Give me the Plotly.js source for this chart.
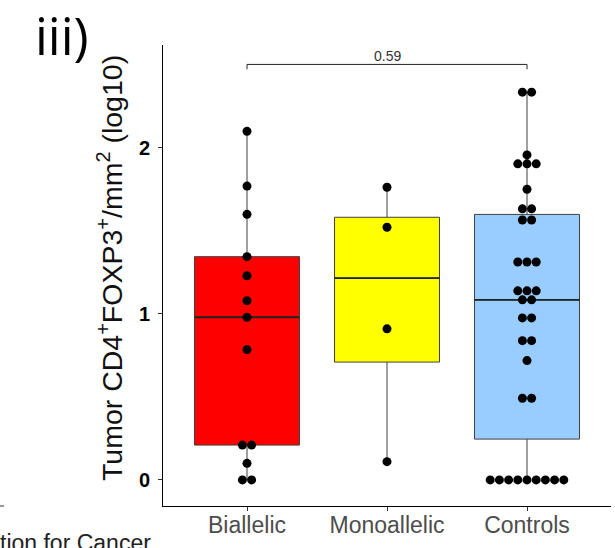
<!DOCTYPE html>
<html>
<head>
<meta charset="utf-8">
<script src="https://cdn.plot.ly/plotly-3.0.1.min.js"></script>
<style>
  html, body { margin: 0; padding: 0; background: #ffffff; }
  #chart { width: 615px; height: 548px; }
</style>
</head>
<body>
<div id="chart"></div>
<script>
// Tumour CD4+FOXP3+ density (log10) per group
const groups = ['Biallelic', 'Monoallelic', 'Controls'];
const biallelic = [2.10, 1.77, 1.60, 1.345, 1.23, 1.08, 0.98, 0.785, 0.21, 0.21, 0.10, 0, 0];
const monoallelic = [1.763, 1.522, 0.91, 0.11];
const controls = [2.336, 2.336, 1.958, 1.904, 1.904, 1.904, 1.751, 1.633, 1.633,
                  1.566, 1.566, 1.313, 1.313, 1.313, 1.139, 1.139, 1.139, 1.085, 1.085,
                  0.976, 0.976, 0.839, 0.839, 0.719, 0.492, 0.492,
                  0, 0, 0, 0, 0, 0, 0, 0, 0];
const fills = ['#FF0000', '#FFFF00', '#99CCFF'];
const yTicks = [0, 1, 2];
const pLabel = '0.59';

const series = [biallelic, monoallelic, controls];

// R-style (type 7) quantile, as used by ggplot's boxplot
function quantile(sorted, p) {
  const h = (sorted.length - 1) * p;
  const lo = Math.floor(h);
  const hi = Math.min(lo + 1, sorted.length - 1);
  return sorted[lo] + (h - lo) * (sorted[hi] - sorted[lo]);
}

const BOX_W = 0.75;
const DOT_STEP = 0.0657;   // horizontal spacing of stacked dots (x units)
const traces = [];
const dotX = [], dotY = [];

series.forEach((vals, i) => {
  const s = vals.slice().sort((a, b) => a - b);
  const q1 = quantile(s, 0.25), med = quantile(s, 0.5), q3 = quantile(s, 0.75);
  const iqr = q3 - q1;
  const lowF = Math.min(...s.filter(v => v >= q1 - 1.5 * iqr));
  const upF = Math.max(...s.filter(v => v <= q3 + 1.5 * iqr));

  traces.push({
    type: 'box', x: [i], q1: [q1], median: [med], q3: [q3],
    lowerfence: [lowF], upperfence: [upF],
    width: BOX_W, whiskerwidth: 0, boxpoints: false,
    fillcolor: fills[i], line: { color: '#404040', width: 1 },
    hoverinfo: 'skip', showlegend: false
  });
  // heavier median bar
  traces.push({
    type: 'scatter', mode: 'lines',
    x: [i - BOX_W / 2, i + BOX_W / 2], y: [med, med],
    line: { color: '#222222', width: 1.8 },
    hoverinfo: 'skip', showlegend: false
  });

  // centred dot stacks: equal values sit side by side
  const counts = new Map();
  vals.forEach(v => counts.set(v, (counts.get(v) || 0) + 1));
  counts.forEach((n, v) => {
    for (let k = 0; k < n; k++) {
      dotX.push(i + (k - (n - 1) / 2) * DOT_STEP);
      dotY.push(v);
    }
  });
});

traces.push({
  type: 'scatter', mode: 'markers', x: dotX, y: dotY,
  marker: { color: '#000000', size: 9, line: { width: 0 } },
  hoverinfo: 'skip', showlegend: false, cliponaxis: false
});

// comparison bracket between first and last group
const bracketY = 2.503, bracketDrop = 0.029;
const shapes = [
  { type: 'line', xref: 'x', yref: 'y', x0: 0, x1: 2, y0: bracketY, y1: bracketY, line: { color: '#222', width: 1 } },
  { type: 'line', xref: 'x', yref: 'y', x0: 0, x1: 0, y0: bracketY, y1: bracketY - bracketDrop, line: { color: '#222', width: 1 } },
  { type: 'line', xref: 'x', yref: 'y', x0: 2, x1: 2, y0: bracketY, y1: bracketY - bracketDrop, line: { color: '#222', width: 1 } },
  { type: 'line', xref: 'paper', yref: 'paper', x0: -163 / 448, x1: -159 / 448, y0: 0, y1: 0, line: { color: '#333', width: 1 } }
];

const FONT = 'Liberation Sans, Arial, sans-serif';
const px = x => (x - 163) / 448;   // page pixel -> paper x
const py = y => (506 - y) / 461;   // page pixel -> paper y

const annotations = [
  { xref: 'x', yref: 'y', x: 1, y: bracketY, text: pLabel, showarrow: false,
    xanchor: 'center', yanchor: 'bottom', yshift: -2,
    font: { family: FONT, size: 14, color: '#333' } },
  { xref: 'paper', yref: 'paper', x: px(110), y: py(268), textangle: -90,
    text: 'Tumor CD4<sup>+</sup>FOXP3<sup>+</sup>/mm<sup>2</sup> (log10)',
    showarrow: false, xanchor: 'center', yanchor: 'middle',
    font: { family: FONT, size: 28.5, color: '#111' } },
  { xref: 'paper', yref: 'paper', x: px(33), y: py(35), text: 'iii)',
    showarrow: false, xanchor: 'left', yanchor: 'middle',
    font: { family: 'Open Sans, sans-serif', size: 51, color: '#000' } },
  { xref: 'paper', yref: 'paper', x: px(-2), y: py(528), text: 'tion for Cancer',
    showarrow: false, xanchor: 'left', yanchor: 'top',
    font: { family: FONT, size: 23, color: '#222' } }
];

const layout = {
  width: 615, height: 548,
  margin: { l: 163, r: 4, t: 45, b: 42, pad: 0 },
  paper_bgcolor: '#ffffff', plot_bgcolor: '#ffffff',
  showlegend: false,
  xaxis: {
    range: [-0.6, 2.6], tickvals: [0, 1, 2], ticktext: groups,
    showgrid: false, zeroline: false, showline: true,
    linecolor: '#000', linewidth: 1,
    ticks: 'outside', ticklen: 4, tickcolor: '#333',
    ticklabelstandoff: -6,
    tickfont: { family: FONT, size: 23, color: '#4d4d4d' },
    fixedrange: true
  },
  yaxis: {
    range: [-0.157, 2.62], tickvals: yTicks, ticktext: yTicks.map(String),
    showgrid: false, zeroline: false, showline: true,
    linecolor: '#000', linewidth: 1,
    ticks: 'outside', ticklen: 4, tickcolor: '#333',
    ticklabelstandoff: 4,
    tickfont: { family: FONT, size: 20, color: '#000', weight: 'bold' },
    fixedrange: true
  },
  shapes: shapes,
  annotations: annotations
};

Plotly.newPlot('chart', traces, layout, { staticPlot: true, displayModeBar: false });
</script>
</body>
</html>
